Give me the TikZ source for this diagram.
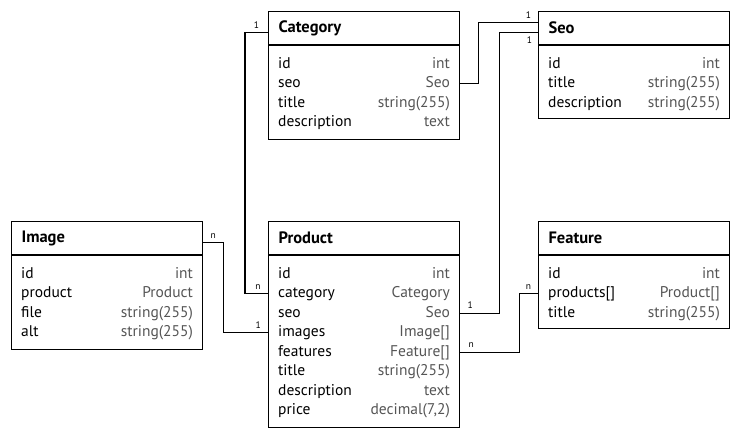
\documentclass[tikz,border=0pt]{standalone}
\usepackage{fontspec}
\setmainfont{PT Sans}
\usetikzlibrary{positioning}
\definecolor{typegray}{HTML}{555555}

\begin{document}
\begin{tikzpicture}[x=1pt,y=-1pt,
    head/.style={draw,line width=1.1pt,anchor=north west,minimum
      width=191pt,minimum height=33pt,text width=171pt,inner xsep=10pt,
      align=left,font=\fontsize{16.5}{18}\selectfont\bfseries},
    body/.style={draw,line width=1.1pt,anchor=north west,minimum
      width=191pt},
    key/.style={anchor=west,inner sep=0pt,text height=11pt,text depth=3pt,
      font=\fontsize{15.5}{18}\selectfont},
    type/.style={key,anchor=east,text=typegray},
    link/.style={line width=1.1pt},
    lab/.style={font=\fontsize{9.5}{10}\selectfont,inner sep=1pt,
      text height=6pt,text depth=0pt}]

    \useasboundingbox (0,0) rectangle (740,440);

    % the tables

    \node[head] (category) at (268,11) {Category};
    \node[body,minimum height=94pt] (category-b) at (category.south west) {};
    \foreach \k/\t [count=\i] in {id/int, seo/Seo, title/string(255),
      description/text}{
      \node[key] (category-k\i) at ([xshift=10pt,yshift={(0.5-19.5*\i)*1pt}]category-b.north west) {\k};
      \node[type,xshift=-10pt] (category-t\i) at (category-b.east |- category-k\i) {\t};
    }

    \node[head] (seo) at (538,11) {Seo};
    \node[body,minimum height=73pt] (seo-b) at (seo.south west) {};
    \foreach \k/\t [count=\i] in {id/int, title/string(255),
      description/string(255)}{
      \node[key] (seo-k\i) at ([xshift=10pt,yshift={(0.5-19.5*\i)*1pt}]seo-b.north west) {\k};
      \node[type,xshift=-10pt] (seo-t\i) at (seo-b.east |- seo-k\i) {\t};
    }

    \node[head] (image) at (11,221) {Image};
    \node[body,minimum height=94pt] (image-b) at (image.south west) {};
    \foreach \k/\t [count=\i] in {id/int, product/Product, file/string(255),
      alt/string(255)}{
      \node[key] (image-k\i) at ([xshift=10pt,yshift={(0.5-19.5*\i)*1pt}]image-b.north west) {\k};
      \node[type,xshift=-10pt] (image-t\i) at (image-b.east |- image-k\i) {\t};
    }

    \node[head] (product) at (268,221) {Product};
    \node[body,minimum height=172pt] (product-b) at (product.south west) {};
    \foreach \k/\t [count=\i] in {id/int, category/Category, seo/Seo,
      images/Image[], features/Feature[], title/string(255),
      description/text, price/{decimal(7,2)}}{
      \node[key] (product-k\i) at ([xshift=10pt,yshift={(0.5-19.5*\i)*1pt}]product-b.north west) {\k};
      \node[type,xshift=-10pt] (product-t\i) at (product-b.east |- product-k\i) {\t};
    }

    \node[head] (feature) at (538,221) {Feature};
    \node[body,minimum height=73pt] (feature-b) at (feature.south west) {};
    \foreach \k/\t [count=\i] in {id/int, products[]/Product[],
      title/string(255)}{
      \node[key] (feature-k\i) at ([xshift=10pt,yshift={(0.5-19.5*\i)*1pt}]feature-b.north west) {\k};
      \node[type,xshift=-10pt] (feature-t\i) at (feature-b.east |- feature-k\i) {\t};
    }

    % the links

    \draw[link] ([yshift=-4.5pt]category.west) -- node[lab,above=3pt]{1}
    ++(-23,0) |- node[lab,pos=.78,above=3pt]{n} (product.west |- product-k2);
    \draw[link] (category.east |- category-k2) -- ++(18,0) |-
    node[lab,pos=.92,above=3pt]{1} ([yshift=5.5pt]seo.west);
    \draw[link] (product.east |- product-k3) -- node[lab,pos=.26,above=3pt]{1}
    ++(39,0) |- node[lab,pos=.89,below=3pt]{1} ([yshift=-4.5pt]seo.west);
    \draw[link] ([yshift=-4.5pt]image.east) -- node[lab,above=3pt]{n}
    ++(20,0) |- node[lab,pos=.89,above=3pt]{1} (product.west |- product-k4);
    \draw[link] (product.east |- product-k5) -- node[lab,pos=.19,above=3pt]{n}
    ++(59,0) |- node[lab,pos=.75,above=3pt]{n} (feature.west |- feature-k2);
  \end{tikzpicture}
\end{document}
